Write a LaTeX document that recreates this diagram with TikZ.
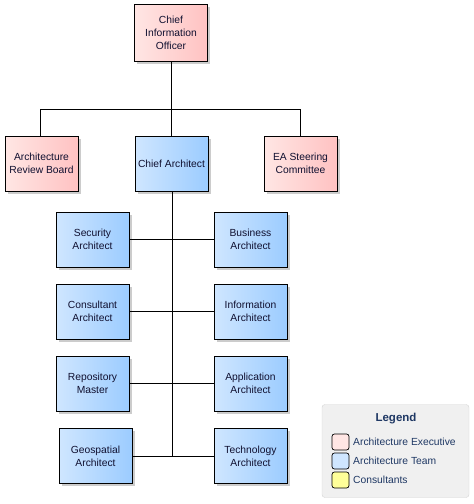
\documentclass[tikz,border=0pt]{standalone}
\usepackage{fontspec}
\setmainfont{Liberation Sans}
\usetikzlibrary{shadows}
\definecolor{redL}{HTML}{FFE6E4}
\definecolor{redR}{HTML}{FFC2C2}
\definecolor{bluL}{HTML}{CFE6FF}
\definecolor{bluR}{HTML}{9CCCFF}
\definecolor{ylw}{HTML}{FFFF99}
\definecolor{legfill}{HTML}{F0F0F0}
\definecolor{legdraw}{HTML}{D4D4D4}
\definecolor{legtext}{HTML}{1F3864}
\definecolor{nodetext}{HTML}{101030}
\tikzset{
  orgbox/.style={draw=black, line width=0.9pt, minimum width=73pt, minimum height=55pt,
    align=center, inner sep=1pt, font=\fontsize{10.3}{13}\selectfont, text=nodetext,
    drop shadow={shadow xshift=2.5pt, shadow yshift=-2.5pt, fill=black!25, opacity=0.8}},
  execbox/.style={orgbox, left color=redL, right color=redR},
  teambox/.style={orgbox, left color=bluL, right color=bluR},
  conn/.style={draw=black, line width=0.9pt},
  swatch/.style={draw=black, line width=0.7pt, rounded corners=2.5pt, minimum width=17pt, minimum height=16pt, inner sep=0pt},
  legtxt/.style={anchor=west, inner sep=0pt, text=legtext, font=\fontsize{10.3}{12}\selectfont}
}
\begin{document}
\begin{tikzpicture}[x=1pt,y=-1pt]
\useasboundingbox (0,0) rectangle (474,504);
% nodes
\node[execbox, minimum height=57pt] (cio) at (171,33) {Chief\\Information\\Officer};
\node[execbox] (arb) at (41.5,163.5) {Architecture\\Review Board};
\node[teambox] (ca) at (171.5,163.5) {Chief Architect};
\node[execbox] (ea) at (300.5,163.5) {EA Steering\\Committee};
\node[teambox] (sec) at (92.5,239.5) {Security\\Architect};
\node[teambox] (bus) at (250.5,239.5) {Business\\Architect};
\node[teambox] (con) at (92.5,311.5) {Consultant\\Architect};
\node[teambox] (inf) at (250.5,311.5) {Information\\Architect};
\node[teambox] (rep) at (92.5,383.5) {Repository\\Master};
\node[teambox] (app) at (250.5,383.5) {Application\\Architect};
\node[teambox] (geo) at (95.5,456) {Geospatial\\Architect};
\node[teambox] (tec) at (250.5,456) {Technology\\Architect};
% connectors
\coordinate (j1) at (171,109);
\draw[conn] (cio.south) -- (j1);
\draw[conn] (arb.north -| 40,0) |- (j1);
\draw[conn] (ea.north) |- (j1);
\draw[conn] (ca.north -| j1) -- (j1);
\coordinate (j2) at (172,456);
\draw[conn] (ca.south -| j2) -- (j2);
\draw[conn] (sec.east) -- (bus.west);
\draw[conn] (con.east) -- (inf.west);
\draw[conn] (rep.east) -- (app.west);
\draw[conn] (geo.east) -- (tec.west);
% legend
\node[draw=legdraw, fill=legfill, rounded corners=3pt, minimum width=147pt, minimum height=93pt, inner sep=0pt] (leg) at (395.5,451) {};
\node[text=legtext, font=\bfseries\fontsize{11.5}{13}\selectfont] (legt) at (396,419) {Legend};
\node[swatch, fill=redL] (s1) at (340.5,442) {};
\node[swatch, fill=bluL] (s2) at (340.5,461) {};
\node[swatch, fill=ylw] (s3) at (340.5,480) {};
\node[legtxt] (l1) at (353,442) {Architecture Executive};
\node[legtxt] (l2) at (353,461) {Architecture Team};
\node[legtxt] (l3) at (353,480) {Consultants};
\end{tikzpicture}
\end{document}
